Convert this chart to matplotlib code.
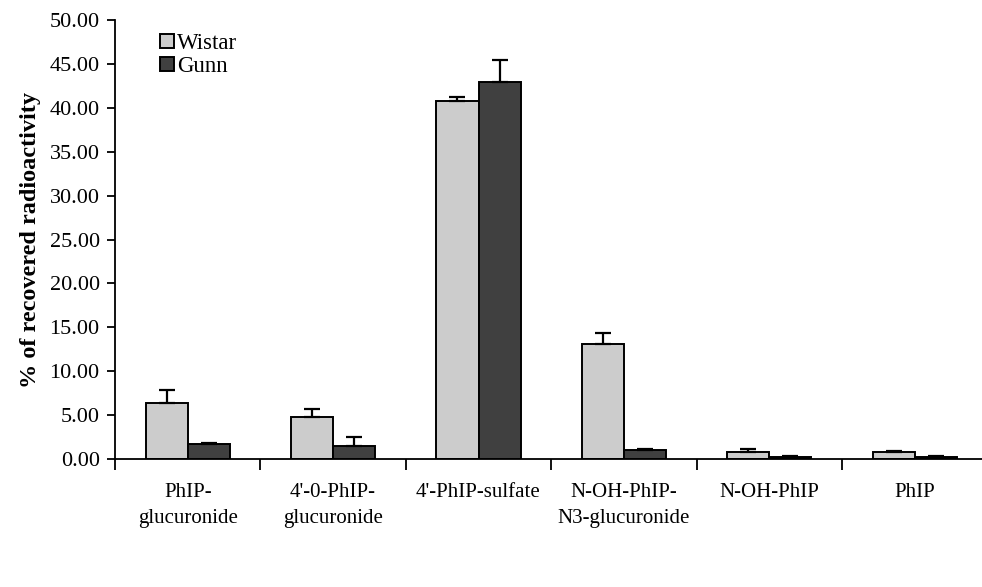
import numpy as np
from matplotlib import pyplot as plt
from matplotlib.ticker import FixedLocator

plt.rcParams['font.family'] = ['Liberation Serif', 'DejaVu Serif']

categories = ['PhIP-\nglucuronide', "4'-0-PhIP-\nglucuronide", "4'-PhIP-sulfate",
              'N-OH-PhIP-\nN3-glucuronide', 'N-OH-PhIP', 'PhIP']
wistar = [6.36, 4.80, 40.80, 13.10, 0.82, 0.82]
wistar_err = [1.45, 0.88, 0.40, 1.20, 0.30, 0.10]
gunn = [1.67, 1.53, 42.90, 1.02, 0.27, 0.24]
gunn_err = [0.17, 0.92, 2.50, 0.07, 0.05, 0.06]

fig = plt.figure(figsize=(9.82, 5.87), dpi=100)
ax = fig.add_axes([115 / 982, 1 - 459 / 587, (982 - 115) / 982, (459 - 20) / 587])

x = np.arange(len(categories))
w = 0.29
err_kw = dict(elinewidth=1.6, capthick=1.6, capsize=5.5, ecolor='black')
ax.bar(x - w / 2, wistar, w, color='#cccccc', edgecolor='black', linewidth=1.4,
       yerr=[np.zeros(len(x)), wistar_err], error_kw=err_kw, label='Wistar')
ax.bar(x + w / 2, gunn, w, color='#404040', edgecolor='black', linewidth=1.4,
       yerr=[np.zeros(len(x)), gunn_err], error_kw=err_kw, label='Gunn')

ax.set_xlim(-0.5, -0.5 + (982 - 115) / 145.4)
ax.set_ylim(0, 50)
ax.set_yticks(np.arange(0, 50.1, 5))
ax.set_yticklabels(['%.2f' % v for v in np.arange(0, 50.1, 5)], fontsize=16)

# boundary ticks as major, labels on minor
ax.xaxis.set_major_locator(FixedLocator(np.arange(-0.5, 5.0, 1)))
ax.set_xticklabels([])
ax.xaxis.set_minor_locator(FixedLocator(x))
ax.set_xticklabels(categories, minor=True, fontsize=15, linespacing=1.55)
ax.tick_params(axis='x', which='major', direction='out', length=8, width=1.3)
ax.tick_params(axis='x', which='minor', length=0, pad=17)
ax.tick_params(axis='y', direction='out', length=6, width=1.3, pad=5)

for s in ['top', 'right']:
    ax.spines[s].set_visible(False)
for s in ['left', 'bottom']:
    ax.spines[s].set_linewidth(1.3)

ax.set_ylabel('% of recovered radioactivity', fontsize=17.5, fontweight='bold', labelpad=6)

fig.legend(loc='upper left', bbox_to_anchor=(160 / 982, 1 - 33 / 587), frameon=False,
           fontsize=16.5, handlelength=0.6, handleheight=0.6, handletextpad=0.15,
           labelspacing=0.1, borderpad=0, borderaxespad=0)

plt.savefig('out.png', dpi=100)
